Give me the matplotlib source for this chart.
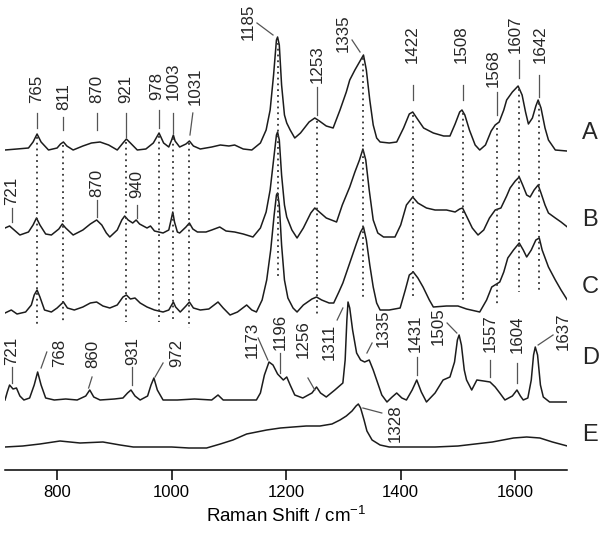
import matplotlib
matplotlib.use("Agg")
import matplotlib.pyplot as plt

plt.rcParams['font.family'] = ['Liberation Sans', 'DejaVu Sans']
plt.rcParams['mathtext.fontset'] = 'custom'
plt.rcParams['mathtext.rm'] = 'Liberation Sans'
plt.rcParams['mathtext.it'] = 'Liberation Sans'

# ---------------- data (x: Raman shift / cm-1, y: vertical position, stacked, downwards) -------------
A_x = [709, 730, 750, 758, 765, 772, 785, 800, 806, 811, 817, 828, 845, 860, 875, 890, 905, 915, 921, 928,
       940, 955, 968, 978, 986, 995, 1000, 1003, 1006, 1014, 1025, 1031, 1038, 1050, 1070, 1085, 1100, 1110,
       1125, 1140, 1155, 1165, 1172, 1178, 1183, 1185, 1188, 1192, 1197, 1201, 1207, 1215, 1225, 1240, 1250,
       1258, 1270, 1282, 1294, 1305, 1311, 1320, 1328, 1335, 1340, 1346, 1352, 1358, 1364, 1380, 1393, 1405,
       1415, 1421, 1428, 1440, 1457, 1475, 1486, 1495, 1503, 1507, 1512, 1520, 1530, 1538, 1548, 1558, 1565,
       1572, 1580, 1585, 1595, 1605, 1612, 1618, 1623, 1630, 1636, 1640, 1645, 1652, 1658, 1670, 1690]
A_y = [150, 149, 148, 142, 134, 142, 150, 148, 144, 142, 146, 150, 146, 143, 142, 145, 150, 143, 139, 143,
       150, 149, 143, 133, 143, 147, 140, 135, 141, 147, 144, 141, 146, 149, 147, 145, 146, 145,
       149, 150, 143, 130, 110, 75, 40, 37, 45, 85, 115, 123, 130, 138, 133, 122, 118,
       121, 126, 128, 110, 92, 80, 70, 62, 55, 70, 100, 125, 138, 142, 143, 142, 128,
       114, 112, 118, 128, 133, 136, 136, 124, 112, 110, 115, 130, 145, 150, 145, 131, 125,
       122, 110, 100, 92, 86, 95, 112, 124, 118, 106, 100, 108, 128, 140, 150, 151]

B_x = [709, 717, 725, 735, 750, 758, 764, 770, 780, 790, 803, 809, 815, 828, 845, 858, 869, 878, 886, 892,
       905, 913, 918, 924, 932, 938, 944, 957, 963, 970, 985, 995, 999, 1002, 1005, 1010, 1014, 1025, 1031,
       1037, 1045, 1060, 1070, 1084, 1095, 1110, 1125, 1142, 1155, 1165, 1172, 1178, 1183, 1185, 1188, 1192,
       1197, 1201, 1210, 1219, 1230, 1243, 1250, 1258, 1270, 1288, 1298, 1311, 1320, 1328, 1334, 1339, 1345,
       1352, 1360, 1370, 1390, 1400, 1410, 1421, 1430, 1445, 1460, 1480, 1495, 1503, 1508, 1514, 1525, 1535,
       1545, 1555, 1565, 1575, 1585, 1591, 1600, 1607, 1613, 1620, 1626, 1633, 1640, 1645, 1652, 1658, 1670,
       1680, 1691]
B_y = [228, 226, 230, 235, 232, 225, 218, 225, 234, 235, 229, 224, 228, 235, 230, 224, 220, 225, 233, 237,
       230, 220, 216, 220, 223, 220, 224, 228, 226, 231, 233, 230, 220, 212, 222, 232, 233, 227, 223,
       229, 232, 232, 230, 227, 231, 232, 234, 237, 228, 212, 190, 160, 135, 132, 140, 175,
       205, 217, 230, 238, 228, 213, 208, 212, 218, 222, 205, 187, 172, 160, 149, 160, 190,
       220, 233, 237, 237, 225, 205, 197, 203, 208, 210, 210, 212, 209, 208, 215, 228, 235,
       230, 218, 210, 208, 196, 188, 181, 177, 185, 195, 197, 190, 185, 193, 205, 213, 218,
       222, 227]

C_x = [709, 720, 730, 745, 755, 760, 765, 770, 778, 790, 800, 811, 818, 830, 845, 858, 869, 880, 892, 905,
       915, 921, 928, 936, 945, 957, 970, 985, 995, 1000, 1003, 1007, 1015, 1025, 1031, 1038, 1050, 1065,
       1081, 1090, 1102, 1115, 1131, 1140, 1148, 1158, 1166, 1173, 1179, 1183, 1185, 1188, 1192, 1197, 1203,
       1212, 1219, 1230, 1245, 1253, 1262, 1275, 1283, 1292, 1299, 1311, 1323, 1330, 1335, 1340, 1346, 1352,
       1358, 1364, 1380, 1399, 1408, 1415, 1422, 1430, 1439, 1450, 1457, 1480, 1500, 1515, 1538, 1550, 1559,
       1573, 1580, 1587, 1597, 1607, 1614, 1620, 1628, 1636, 1642, 1647, 1658, 1670, 1680, 1691]
C_y = [313, 310, 314, 312, 305, 295, 290, 297, 310, 312, 308, 302, 308, 310, 307, 303, 302, 306, 308, 305,
       297, 295, 299, 298, 303, 307, 310, 312, 310, 305, 302, 307, 312, 306, 302, 308, 310, 309,
       302, 308, 315, 312, 305, 310, 312, 300, 280, 250, 215, 195, 193, 205, 245, 280, 298,
       308, 312, 305, 299, 297, 300, 303, 303, 292, 283, 263, 243, 232, 227, 240, 265, 287,
       303, 310, 310, 308, 290, 275, 272, 278, 287, 300, 307, 306, 306, 309, 312, 300, 287,
       282, 272, 258, 250, 243, 250, 257, 250, 240, 238, 250, 267, 280, 290, 300]

D_x = [709, 713, 717, 723, 729, 735, 742, 752, 760, 766, 772, 780, 795, 815, 835, 850, 857, 864, 875, 900,
       915, 923, 929, 936, 945, 958, 964, 969, 975, 985, 1010, 1040, 1070, 1081, 1090, 1120, 1148, 1155,
       1162, 1170, 1177, 1185, 1195, 1201, 1207, 1215, 1229, 1245, 1253, 1260, 1270, 1285, 1299, 1303, 1306,
       1308, 1311, 1316, 1323, 1330, 1337, 1345, 1352, 1358, 1367, 1376, 1385, 1393, 1402, 1410, 1420, 1428,
       1436, 1445, 1460, 1474, 1486, 1494, 1499, 1502, 1506, 1511, 1515, 1524, 1533, 1545, 1556, 1565, 1573,
       1582, 1595, 1603, 1609, 1614, 1622, 1628, 1632, 1635, 1639, 1644, 1649, 1660, 1691]
D_y = [400, 392, 385, 389, 388, 396, 400, 398, 385, 372, 385, 398, 400, 399, 400, 396, 390, 397, 400, 399,
       398, 393, 390, 396, 400, 396, 385, 378, 390, 400, 400, 399, 400, 395, 400, 400, 400, 393,
       375, 362, 365, 374, 380, 377, 385, 395, 398, 393, 387, 393, 397, 390, 383, 360, 320,
       302, 308, 330, 353, 360, 362, 360, 370, 380, 395, 402, 397, 393, 398, 400, 390, 380,
       392, 402, 393, 380, 377, 362, 340, 335, 345, 370, 380, 390, 380, 381, 382, 387, 393,
       400, 396, 390, 396, 400, 398, 380, 355, 347, 355, 385, 397, 402, 402]

E_x = [709, 740, 770, 805, 840, 880, 910, 933, 970, 1000, 1030, 1061, 1085, 1107, 1131, 1166, 1190, 1212,
       1235, 1259, 1280, 1294, 1305, 1315, 1322, 1326, 1330, 1336, 1341, 1350, 1364, 1380, 1420, 1460, 1500,
       1530, 1560, 1597, 1620, 1643, 1665, 1691]
E_y = [447, 446, 444, 441, 443, 442, 445, 447, 447, 447, 448, 448, 444, 440, 434, 430, 428, 427,
       426, 426, 424, 420, 416, 411, 406, 404, 408, 420, 431, 440, 445, 447, 447, 447, 446,
       444, 442, 438, 437, 438, 442, 446]

trace_names = ['A', 'B', 'C', 'D', 'E']
trace_name_y = [133, 220, 287, 358, 435]

# dotted guide lines: position, top, bottom
guide_x = [765, 811, 921, 978, 1003, 1031, 1185, 1253, 1335, 1422, 1508, 1568, 1607, 1642]
guide_top = [137, 145, 142, 136, 138, 143, 43, 121, 58, 115, 113, 128, 89, 103]
guide_bot = [327, 323, 322, 322, 322, 328, 278, 317, 298, 298, 300, 305, 292, 292]

# peak labels: text, text x, text bottom, leader x1, y1, x2, y2
lab_text = ['765', '811', '870', '921', '978', '1003', '1031', '1185', '1253', '1335', '1422', '1508',
            '1568', '1607', '1642',
            '721', '870', '940',
            '721', '768', '860', '931', '972', '1173', '1196', '1256', '1311', '1335', '1431', '1505',
            '1557', '1604', '1637',
            '1328']
lab_x = [765, 811, 869, 920, 974, 1002, 1041, 1133, 1254, 1299, 1420, 1505, 1561, 1600, 1643,
         721, 869, 939,
         721, 805, 862, 932, 1009, 1140, 1189, 1229, 1276, 1369, 1425, 1465, 1556, 1603, 1683,
         1390]
lab_y = [103, 110, 103, 103, 100, 100, 105, 40, 83, 52, 63, 63, 87, 53, 63,
         205, 197, 198,
         365, 367, 368, 365, 367, 358, 350, 358, 360, 347, 352, 345, 352, 353, 350,
         442]
lead_x1 = [765, 811, 870, 921, 978, 1003, 1037, 1149, 1253, 1315, 1422, 1508, 1568, 1607, 1642,
           721, 870, 940,
           721, 782, 861, 931, 985, 1151, 1189, 1238, 1289, 1350, 1428, 1481, 1556, 1603, 1666,
           1334]
lead_y1 = [113, 117, 113, 113, 110, 113, 113, 23, 87, 40, 85, 85, 92, 60, 75,
           208, 200, 205,
           367, 352, 377, 367, 363, 338, 353, 378, 320, 343, 357, 323, 360, 363, 335,
           408]
lead_x2 = [765, 811, 870, 921, 978, 1003, 1032, 1177, 1253, 1329, 1422, 1508, 1568, 1607, 1642,
           721, 870, 940,
           721, 772, 855, 931, 971, 1168, 1189, 1250, 1299, 1341, 1428, 1498, 1556, 1603, 1640,
           1367]
lead_y2 = [128, 130, 130, 137, 128, 133, 135, 35, 115, 52, 100, 100, 115, 78, 97,
           222, 217, 218,
           383, 368, 388, 385, 377, 360, 373, 390, 308, 353, 375, 333, 377, 383, 345,
           413]

x_ticks = [800, 1000, 1200, 1400, 1600]

# ---------------- figure ----------------
W, H = 600, 541
fig = plt.figure(figsize=(W / 100, H / 100), dpi=100)
ax = fig.add_axes([5 / W, (H - 470) / H, 562 / W, 470 / H])
ax.set_xlim(709, 1690.4)
ax.set_ylim(470, 0)

line_col = '#1c1c1c'
for xs, ys in [(A_x, A_y), (B_x, B_y), (C_x, C_y), (D_x, D_y), (E_x, E_y)]:
    ax.plot(xs, ys, color=line_col, lw=1.1, solid_joinstyle='round')

for gx, gt, gb in zip(guide_x, guide_top, guide_bot):
    ax.plot([gx, gx], [gt, gb], color='#333333', lw=1.3, linestyle=(0, (1, 2.2)))

for t, tx, ty, x1, y1, x2, y2 in zip(lab_text, lab_x, lab_y, lead_x1, lead_y1, lead_x2, lead_y2):
    ax.text(tx, ty, t, rotation=90, ha='center', va='bottom', fontsize=12.2, color='#262626',
            rotation_mode='default')
    ax.plot([x1, x2], [y1, y2], color='#555555', lw=0.9)

for name, ny in zip(trace_names, trace_name_y):
    ax.text(1731, ny, name, ha='center', va='center', fontsize=17, color='#262626', clip_on=False)

for s in ['left', 'right', 'top']:
    ax.spines[s].set_visible(False)
ax.spines['bottom'].set_linewidth(1.1)
ax.set_yticks([])
ax.set_xticks(x_ticks)
ax.set_xticklabels([str(v) for v in x_ticks])
ax.tick_params(axis='x', direction='out', length=7, width=1.1, labelsize=12, pad=4)
ax.set_xlabel('Raman Shift / cm$^{-1}$', fontsize=13.5, labelpad=4)

fig.savefig('out.png', dpi=100)
